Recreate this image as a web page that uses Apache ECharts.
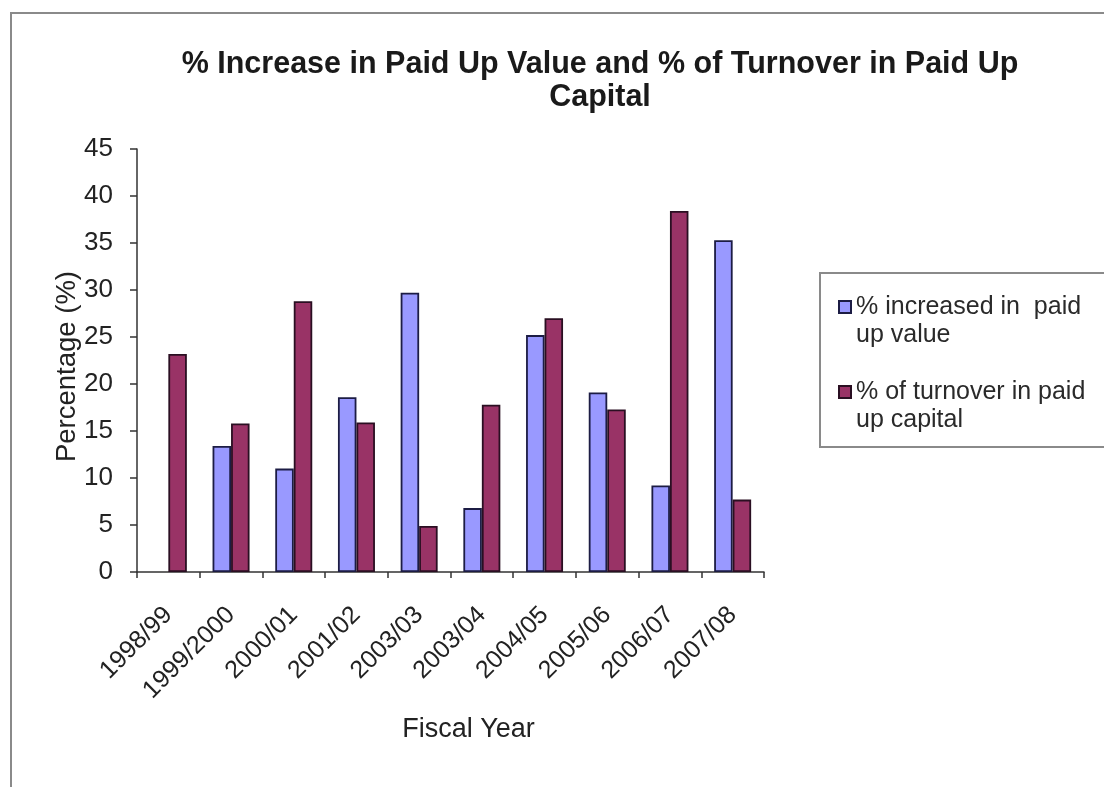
<!DOCTYPE html>
<html>
<head>
<meta charset="utf-8">
<title>% Increase in Paid Up Value and % of Turnover in Paid Up Capital</title>
<script src="https://cdn.jsdelivr.net/npm/echarts@6/dist/echarts.min.js"></script>
<style>
  html, body { margin: 0; padding: 0; background: #ffffff; }
  #chart { width: 1104px; height: 787px; }
</style>
</head>
<body>
<div id="chart"></div>
<script>
// Fiscal years on the category axis
const fiscalYears = ['1998/99', '1999/2000', '2000/01', '2001/02', '2003/03',
                     '2003/04', '2004/05', '2005/06', '2006/07', '2007/08'];

// % increase in paid up value (no value for 1998/99)
const paidUpIncrease = [null, 13.4, 11.0, 18.6, 29.7, 6.8, 25.2, 19.1, 9.2, 35.3];

// % of turnover in paid up capital
const turnoverInCapital = [23.2, 15.8, 28.8, 15.9, 4.9, 17.8, 27.0, 17.3, 38.4, 7.7];

// Series names and their two-line legend captions
const seriesNames = ['% increased in  paid up value', '% of turnover in paid up capital'];
const legendLines = [['% increased in  paid', 'up value'], ['% of turnover in paid', 'up capital']];

// Chart title, two lines
const titleLines = ['% Increase in Paid Up Value and % of Turnover in Paid Up', 'Capital'];

// Value axis range
const yMin = 0, yMax = 45, yStep = 5;

const FONT = '"Liberation Sans", Arial, Helvetica, sans-serif';
const TEXT = '#222222';
const AXIS = '#333333';

const chart = echarts.init(document.getElementById('chart'), null, { renderer: 'canvas' });

chart.setOption({
  backgroundColor: '#ffffff',
  animation: false,
  textStyle: { fontFamily: FONT },
  title: {
    text: titleLines.join('\n'),
    // centre of the title block sits at x = 600
    left: 600,
    top: 48,
    padding: 0,
    textAlign: 'center',
    textStyle: {
      fontFamily: FONT,
      fontSize: 30.5,
      fontWeight: 'bold',
      color: '#1a1a1a',
      lineHeight: 33
    }
  },
  graphic: [
    {
      // outer frame of the chart area
      type: 'rect',
      silent: true,
      shape: { x: 11, y: 13, width: 1110, height: 800 },
      style: { fill: 'none', stroke: '#8a8a8a', lineWidth: 2 }
    },
    {
      // frame around the legend
      type: 'rect',
      silent: true,
      shape: { x: 820, y: 273, width: 300, height: 174 },
      style: { fill: 'none', stroke: '#8a8a8a', lineWidth: 2 }
    }
  ],
  legend: {
    data: seriesNames,
    orient: 'vertical',
    left: 838,
    top: 265,
    padding: 0,
    itemGap: 1,
    itemWidth: 12,
    itemHeight: 12,
    icon: 'rect',
    // a blank first line keeps the marker level with the first caption line
    formatter: function (name) {
      return '\n' + legendLines[seriesNames.indexOf(name)].join('\n');
    },
    textStyle: {
      fontFamily: FONT,
      fontSize: 25,
      lineHeight: 28,
      color: '#2a2a2a'
    }
  },
  grid: {
    left: 137,
    right: 340,
    top: 149,
    bottom: 215,
    containLabel: false
  },
  xAxis: {
    type: 'category',
    data: fiscalYears,
    boundaryGap: true,
    name: 'Fiscal Year',
    nameLocation: 'middle',
    nameGap: 144,
    nameTextStyle: {
      fontFamily: FONT,
      fontSize: 27,
      color: TEXT,
      padding: [0, 0, 0, 36]
    },
    axisLine: { show: true, lineStyle: { color: AXIS, width: 1.5 } },
    axisTick: { show: true, alignWithLabel: false, length: 6, lineStyle: { color: AXIS, width: 1.5 } },
    axisLabel: {
      rotate: 45,
      margin: 39,
      fontFamily: FONT,
      fontSize: 25,
      color: TEXT,
      interval: 0
    },
    splitLine: { show: false }
  },
  yAxis: {
    type: 'value',
    min: yMin,
    max: yMax,
    interval: yStep,
    name: 'Percentage (%)',
    nameLocation: 'middle',
    nameRotate: 90,
    nameGap: 56,
    // the axis title sits partly over the tick labels
    nameMoveOverlap: false,
    nameTextStyle: {
      fontFamily: FONT,
      fontSize: 27.5,
      color: TEXT,
      padding: [0, 12, 0, 0]
    },
    axisLine: { show: true, lineStyle: { color: AXIS, width: 1.5 } },
    axisTick: { show: true, inside: false, length: 7, lineStyle: { color: AXIS, width: 1.5 } },
    axisLabel: {
      margin: 24,
      fontFamily: FONT,
      fontSize: 26,
      color: TEXT
    },
    splitLine: { show: false }
  },
  series: [
    {
      name: seriesNames[0],
      type: 'bar',
      data: paidUpIncrease,
      barGap: '0%',
      barCategoryGap: '41%',
      itemStyle: { color: '#9999ff', borderColor: '#1c1c44', borderWidth: 1.8 }
    },
    {
      name: seriesNames[1],
      type: 'bar',
      data: turnoverInCapital,
      barGap: '0%',
      barCategoryGap: '41%',
      itemStyle: { color: '#993366', borderColor: '#2a0f22', borderWidth: 1.8 }
    }
  ]
});
</script>
</body>
</html>
